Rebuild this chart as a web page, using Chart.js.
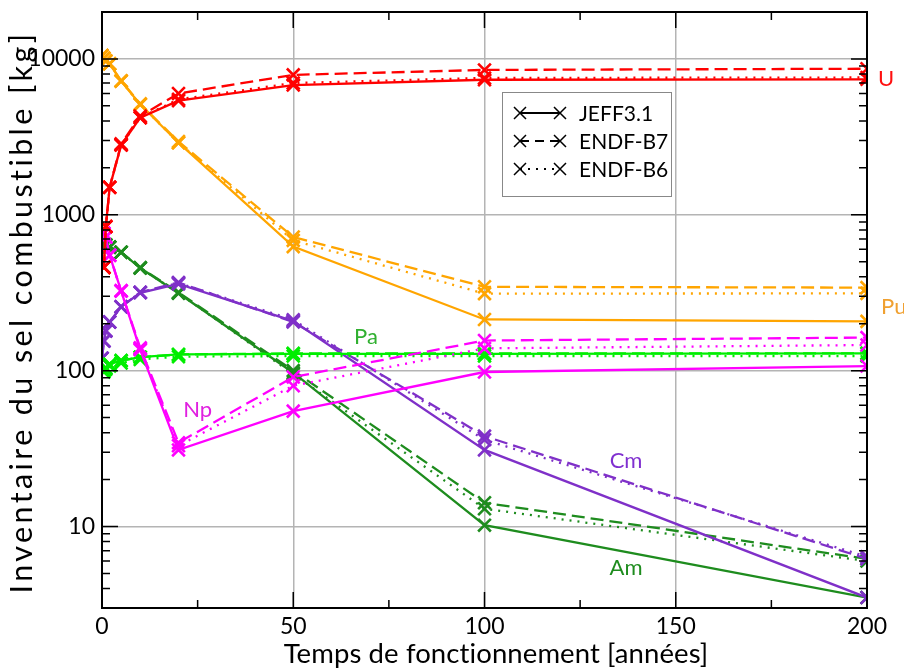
<!DOCTYPE html>
<html><head><meta charset="utf-8">
<script src="https://cdn.jsdelivr.net/npm/chart.js@4"></script>
<style>html,body{margin:0;padding:0;background:#fff}#wrap{width:904px;height:669px}</style>
</head><body><div id="wrap"><canvas id="c" width="904" height="669"></canvas></div>
<script>
// ---- data ----
const years = [0, 0.5, 1, 2, 5, 10, 20, 50, 100, 200];
const libraries = ["JEFF3.1", "ENDF-B7", "ENDF-B6"];
const elements = ["U", "Pu", "Np", "Pa", "Cm", "Am"];

const U_JEFF = [0, 460, 840, 1500, 2800, 4200, 5400, 6800, 7350, 7400];
const U_B7   = [0, 460, 840, 1500, 2850, 4300, 6000, 7900, 8500, 8650];
const U_B6   = [0, 460, 840, 1500, 2800, 4200, 5500, 7000, 7550, 7600];

const Pu_JEFF = [10500, 10100, 9700, 9300, 7200, 5100, 2900, 625, 213, 207];
const Pu_B7   = [10500, 10100, 9700, 9300, 7250, 5150, 2950, 720, 345, 341];
const Pu_B6   = [10500, 10100, 9700, 9300, 7200, 5100, 2900, 685, 312, 313];

const Np_JEFF = [790, 760, 720, 550, 325, 136, 31, 55, 98, 107];
const Np_B7   = [790, 760, 720, 550, 325, 140, 34.5, 91, 156, 163];
const Np_B6   = [790, 760, 720, 550, 325, 138, 33, 80, 139, 146];

const Pa_JEFF = [0, 100, 104, 110, 116, 122, 127, 128, 128, 129];
const Pa_B7   = [0, 100, 104, 110, 116, 122, 127, 129, 129, 129];
const Pa_B6   = [0, 98, 102, 107, 112, 118, 123, 124, 124, 124];

const Cm_JEFF = [120, 155, 180, 205, 257, 316, 360, 208, 31, 3.5];
const Cm_B7   = [120, 155, 180, 205, 257, 318, 368, 205, 38, 6.2];
const Cm_B6   = [120, 155, 180, 205, 257, 318, 365, 212, 36, 6.4];

const Am_JEFF = [660, 650, 640, 620, 575, 455, 314, 97, 10.2, 3.5];
const Am_B7   = [660, 650, 640, 620, 575, 458, 318, 100, 14.2, 6.2];
const Am_B6   = [660, 650, 640, 620, 575, 455, 315, 95, 13, 6.0];

const yTickValues = [10, 100, 1000, 10000];
const xTickStep = 50;
const xTitle = 'Temps de fonctionnement [années]';
const yTitle = 'Inventaire du sel combustible [kg]';

// ---- styling ----
const FONT = "Lato, 'Noto Sans', sans-serif";
const lineColors = {U:'#ff0000', Pu:'#ffa500', Np:'#ff00ff', Pa:'#00ee00', Cm:'#7f30c8', Am:'#1e8c1e'};
const textColors = {U:'#ff1010', Pu:'#f0a030', Np:'#e020e0', Pa:'#30b030', Cm:'#8030d0', Am:'#1e8c1e'};
const dashes = [[], [13, 6], [2, 6]];
const seriesData = {
  U:[U_JEFF,U_B7,U_B6], Pu:[Pu_JEFF,Pu_B7,Pu_B6], Np:[Np_JEFF,Np_B7,Np_B6],
  Pa:[Pa_JEFF,Pa_B7,Pa_B6], Cm:[Cm_JEFF,Cm_B7,Cm_B6], Am:[Am_JEFF,Am_B7,Am_B6]
};
// element labels (data coordinates)
const labelPos = {U:[205, 7400], Pu:[207, 256], Pa:[69, 164], Np:[25, 56], Cm:[137, 26.3], Am:[137, 5.45]};

const datasets = [];
elements.forEach(el => {
  libraries.forEach((lib, li) => {
    datasets.push({
      label: el + ' ' + lib,
      data: years.map((t, i) => ({x: t, y: seriesData[el][li][i]})),
      borderColor: lineColors[el],
      backgroundColor: lineColors[el],
      borderWidth: 2.3,
      borderDash: dashes[li],
      pointStyle: 'crossRot',
      pointRadius: ctx => (ctx.raw && ctx.raw.y === 0) ? 0 : 9,
      pointBorderWidth: 2.6,
      pointBorderColor: lineColors[el],
      tension: 0,
      fill: false
    });
  });
});

function spacedText(ctx, text, size, targetWidth) {
  ctx.font = size + "px " + FONT;
  const w = ctx.measureText(text).width;
  if ('letterSpacing' in ctx) {
    const sp = (targetWidth - w) / Math.max(1, text.length - 1);
    ctx.letterSpacing = sp.toFixed(2) + 'px';
  } else {
    ctx.font = (size * targetWidth / w).toFixed(1) + "px " + FONT;
  }
}

const decor = {
  id: 'decor',
  afterDraw(chart) {
    const ctx = chart.ctx, a = chart.chartArea, xs = chart.scales.x, ys = chart.scales.y;
    ctx.save();
    // frame
    ctx.strokeStyle = '#000'; ctx.lineWidth = 2;
    ctx.strokeRect(a.left, a.top, a.right - a.left, a.bottom - a.top);
    ctx.lineWidth = 1.5;
    // x ticks inward
    for (let v = 25; v < 200; v += 25) {
      const px = xs.getPixelForValue(v);
      const L = (v % 50 === 0) ? 16 : 8;
      ctx.beginPath(); ctx.moveTo(px, a.bottom); ctx.lineTo(px, a.bottom - L);
      ctx.moveTo(px, a.top); ctx.lineTo(px, a.top + L); ctx.stroke();
    }
    // y ticks inward
    for (let d = 0; d <= 4; d++) {
      for (let m = 1; m <= 9; m++) {
        const v = m * Math.pow(10, d);
        if (v < 3 || v > 20000) continue;
        const py = ys.getPixelForValue(v);
        const L = (m === 1) ? 16 : 8;
        ctx.beginPath(); ctx.moveTo(a.left, py); ctx.lineTo(a.left + L, py);
        ctx.moveTo(a.right, py); ctx.lineTo(a.right - L, py); ctx.stroke();
      }
    }
    // element labels
    ctx.font = "22px " + FONT; ctx.textAlign = 'center'; ctx.textBaseline = 'middle';
    elements.forEach(el => {
      const [lx, ly] = labelPos[el];
      ctx.fillStyle = textColors[el];
      ctx.fillText(el, xs.getPixelForValue(lx), ys.getPixelForValue(ly));
    });
    // legend
    const bx = 502, by = 92, bw = 169, bh = 104;
    ctx.fillStyle = '#fff'; ctx.fillRect(bx, by, bw, bh);
    ctx.strokeStyle = '#888'; ctx.lineWidth = 1; ctx.strokeRect(bx + 0.5, by + 0.5, bw, bh);
    ctx.font = "21px " + FONT; ctx.textAlign = 'left'; ctx.fillStyle = '#000';
    const rows = [113, 141, 169];
    libraries.forEach((lib, i) => {
      const y = rows[i], x1 = 520, x2 = 560;
      ctx.strokeStyle = '#000'; ctx.lineWidth = 1.8;
      ctx.setLineDash(dashes[i].length ? (i === 1 ? [9, 6] : [2, 6]) : []);
      ctx.beginPath(); ctx.moveTo(x1, y); ctx.lineTo(x2, y); ctx.stroke();
      ctx.setLineDash([]); ctx.lineWidth = 1.5;
      [x1, x2].forEach(cx => {
        ctx.beginPath(); ctx.moveTo(cx - 6, y - 6); ctx.lineTo(cx + 6, y + 6);
        ctx.moveTo(cx - 6, y + 6); ctx.lineTo(cx + 6, y - 6); ctx.stroke();
      });
      ctx.fillText(lib, 579, y + 1);
    });
    ctx.restore();

    // axis titles
    ctx.save();
    ctx.fillStyle = '#000'; ctx.textAlign = 'center'; ctx.textBaseline = 'alphabetic';
    spacedText(ctx, xTitle, 27.5, 425);
    ctx.fillText(xTitle, 496, 663);
    ctx.restore();
    ctx.save();
    ctx.fillStyle = '#000'; ctx.textAlign = 'center'; ctx.textBaseline = 'alphabetic';
    ctx.translate(32, (a.top + a.bottom) / 2 + 2);
    ctx.rotate(-Math.PI / 2);
    spacedText(ctx, yTitle, 30.5, 560);
    ctx.fillText(yTitle, 0, 0);
    ctx.restore();
  }
};

new Chart(document.getElementById('c'), {
  type: 'line',
  data: { datasets },
  options: {
    responsive: false, animation: false,
    layout: { padding: { top: 12, right: 37, left: 0, bottom: 0 } },
    plugins: { legend: { display: false }, tooltip: { enabled: false } },
    scales: {
      x: {
        type: 'linear', min: 0, max: 200,
        ticks: { stepSize: xTickStep, color: '#000', font: { family: FONT, size: 23 }, padding: 5, maxRotation: 0 },
        grid: { color: '#b4b4b4', lineWidth: 1.5, drawTicks: false },
        border: { display: false },
        title: { display: false },
        afterFit(s) { s.height = 61; s.paddingLeft = 0; s.paddingRight = 0; }
      },
      y: {
        type: 'logarithmic', min: 3, max: 20000,
        afterBuildTicks(s) { s.ticks = yTickValues.map(v => ({ value: v })); },
        ticks: { color: '#000', font: { family: FONT, size: 23 }, padding: 7, callback: v => String(v) },
        grid: { color: '#b4b4b4', lineWidth: 1.5, drawTicks: false },
        border: { display: false },
        title: { display: false },
        afterFit(s) { s.width = 102; s.paddingTop = 0; s.paddingBottom = 0; }
      }
    }
  },
  plugins: [decor]
});
</script>
</body></html>
